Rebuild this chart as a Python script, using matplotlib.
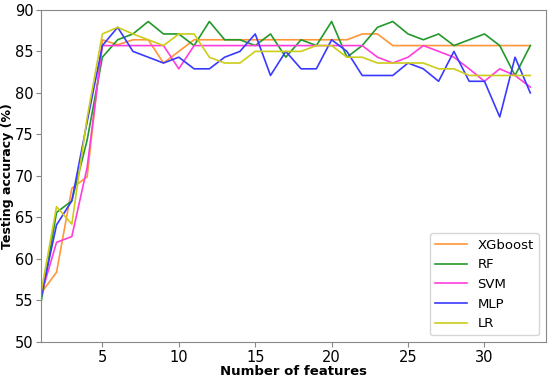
import matplotlib
matplotlib.use("Agg")
import matplotlib.pyplot as plt

plt.rcParams.update({
    'font.family': 'DejaVu Sans',
    'axes.edgecolor': '#888888',
    'lines.linewidth': 1.2,
})

# Number of selected features
n_features = list(range(1, 34))

# Testing accuracy (%) per model
xgboost = [55.9, 58.4, 68.5, 69.9, 86.4, 85.8, 86.4, 86.4, 83.6, 85.0, 86.4,
           86.4, 86.4, 86.4, 86.4, 86.4, 86.4, 86.4, 86.4, 86.4, 86.4, 87.1,
           87.1, 85.7, 85.7, 85.7, 85.7, 85.7, 85.7, 85.7, 85.7, 85.7, 85.7]
rf = [54.9, 65.6, 67.0, 74.3, 84.3, 86.4, 87.1, 88.6, 87.1, 87.1, 85.7,
      88.6, 86.4, 86.4, 85.7, 87.1, 84.3, 86.4, 85.7, 88.6, 84.3, 85.7,
      87.9, 88.6, 87.1, 86.4, 87.1, 85.7, 86.4, 87.1, 85.7, 82.1, 85.7]
svm = [55.7, 62.0, 62.7, 71.0, 85.7, 85.7, 85.7, 85.7, 85.7, 82.9, 85.7,
       85.7, 85.7, 85.7, 85.7, 85.7, 85.7, 85.7, 85.7, 85.7, 85.7, 85.7,
       84.3, 83.6, 84.3, 85.7, 85.0, 84.3, 82.9, 81.4, 82.9, 82.1, 80.7]
mlp = [55.5, 64.1, 67.0, 76.5, 85.7, 87.9, 85.0, 84.3, 83.6, 84.3, 82.9,
       82.9, 84.3, 85.0, 87.1, 82.1, 85.0, 82.9, 82.9, 86.4, 85.0, 82.1,
       82.1, 82.1, 83.6, 82.9, 81.4, 85.0, 81.4, 81.4, 77.1, 84.3, 80.0]
lr = [56.1, 66.3, 64.2, 77.0, 87.1, 87.9, 87.1, 86.4, 85.7, 87.1, 87.1,
      84.3, 83.6, 83.6, 85.0, 85.0, 85.0, 85.0, 85.7, 85.7, 84.3, 84.3,
      83.6, 83.6, 83.6, 83.6, 82.9, 82.9, 82.1, 82.1, 82.1, 82.1, 82.1]

series = [
    ('XGboost', xgboost, '#ff9638'),
    ('RF', rf, '#22992a'),
    ('SVM', svm, '#ff3ddd'),
    ('MLP', mlp, '#3a3aff'),
    ('LR', lr, '#cccc1a'),
]

fig, ax = plt.subplots(figsize=(5.5, 3.8), dpi=100)
fig.subplots_adjust(left=0.075, right=0.992, top=0.974, bottom=0.1)

for name, vals, color in series:
    ax.plot(n_features, vals, color=color, label=name)

ax.set_xlim(1, 34)
ax.set_ylim(50, 90)
ax.set_xticks([5, 10, 15, 20, 25, 30])
ax.set_yticks(range(50, 91, 5))
ax.tick_params(labelsize=10.5, color='#888888', length=3.5, pad=2)
ax.set_xlabel("Number of features", fontsize=9.5, fontweight='bold', labelpad=0)
ax.set_ylabel("Testing accuracy (%)", fontsize=9, fontweight='bold')
ax.yaxis.set_label_coords(-0.054, 0.5)
ax.legend(loc='lower right', fontsize=9.5, handlelength=2.4)

plt.savefig("out.png", dpi=100)
